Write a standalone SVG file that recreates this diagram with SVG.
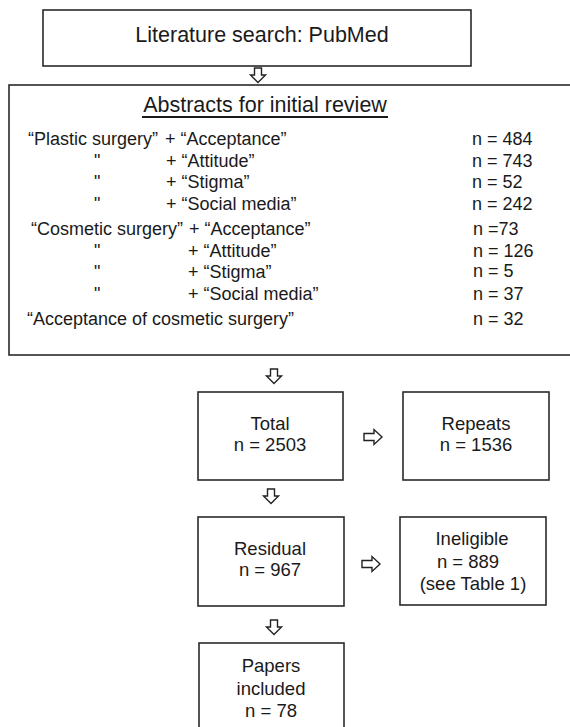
<svg xmlns="http://www.w3.org/2000/svg" width="570" height="727" viewBox="0 0 570 727">
<style>
text{font-family:"Liberation Sans",Arial,sans-serif;fill:#1a1a1a}
.box{fill:#fff;stroke:#2a2a2a;stroke-width:1.6}
.t{font-size:21.5px;text-anchor:middle}
.r{font-size:18px}
.b{font-size:18.5px;text-anchor:middle}
.arr{fill:#fff;stroke:#222;stroke-width:1.4;stroke-linejoin:miter}
</style>
<defs>
<path id="down" d="M-3.5,-7 H3.5 V0 H7.5 L0,7.5 L-7.5,0 H-3.5 Z"/>
<path id="right" d="M-9,-3.5 V3.5 H1 V7.5 L9,0 L1,-7.5 V-3.5 Z"/>
</defs>
<rect width="570" height="727" fill="#fff"/>
<g id="search">
<rect class="box" x="43" y="10" width="428" height="56"/>
<text class="t" x="262" y="42">Literature search: PubMed</text>
</g>
<g id="abstracts">
<rect class="box" x="9" y="85" width="570" height="270"/>
<text class="t" x="265" y="112">Abstracts for initial review</text>
<rect x="142" y="116" width="246" height="2" fill="#1a1a1a"/>
<text class="r" x="28" y="145">“Plastic surgery”</text><text class="r" x="165" y="145">+ “Acceptance”</text>
<text class="r" x="94" y="167">"</text><text class="r" x="166" y="167">+ “Attitude”</text>
<text class="r" x="94" y="188">"</text><text class="r" x="166" y="188">+ “Stigma”</text>
<text class="r" x="94" y="210">"</text><text class="r" x="166" y="210">+ “Social media”</text>
<text class="r" x="31" y="235">“Cosmetic surgery”</text><text class="r" x="189" y="235">+ “Acceptance”</text>
<text class="r" x="94" y="257">"</text><text class="r" x="188" y="257">+ “Attitude”</text>
<text class="r" x="94" y="278">"</text><text class="r" x="188" y="278">+ “Stigma”</text>
<text class="r" x="94" y="300">"</text><text class="r" x="188" y="300">+ “Social media”</text>
<text class="r" x="27" y="325">“Acceptance of cosmetic surgery”</text>
<text class="r" x="472" y="145">n = 484</text>
<text class="r" x="472" y="167">n = 743</text>
<text class="r" x="472" y="188">n = 52</text>
<text class="r" x="472" y="210">n = 242</text>
<text class="r" x="473" y="235">n =73</text>
<text class="r" x="473" y="257">n = 126</text>
<text class="r" x="473" y="277">n = 5</text>
<text class="r" x="473" y="300">n = 37</text>
<text class="r" x="473" y="325">n = 32</text>
</g>
<g id="total">
<rect class="box" x="198" y="392" width="145" height="88"/>
<text class="b" x="270" y="430">Total</text>
<text class="b" x="270" y="451">n = 2503</text>
</g>
<g id="repeats">
<rect class="box" x="403" y="392" width="146" height="88"/>
<text class="b" x="476" y="430">Repeats</text>
<text class="b" x="476" y="451">n = 1536</text>
</g>
<g id="residual">
<rect class="box" x="198" y="517" width="146" height="89"/>
<text class="b" x="270" y="555">Residual</text>
<text class="b" x="270" y="576">n = 967</text>
</g>
<g id="ineligible">
<rect class="box" x="400" y="517" width="146" height="88"/>
<text class="b" x="472" y="545">Ineligible</text>
<text class="b" x="468" y="568">n = 889</text>
<text class="b" x="473" y="590">(see Table 1)</text>
</g>
<g id="papers">
<rect class="box" x="199" y="643" width="145" height="95"/>
<text class="b" x="271" y="672">Papers</text>
<text class="b" x="271" y="695">included</text>
<text class="b" x="271" y="717">n = 78</text>
</g>
<g id="connectors">
<use href="#down" class="arr" x="258" y="75"/>
<use href="#down" class="arr" x="274" y="376"/>
<use href="#down" class="arr" x="271" y="496"/>
<use href="#down" class="arr" x="274" y="627"/>
<use href="#right" class="arr" x="373" y="437"/>
<use href="#right" class="arr" x="371" y="564"/>
</g>
</svg>
